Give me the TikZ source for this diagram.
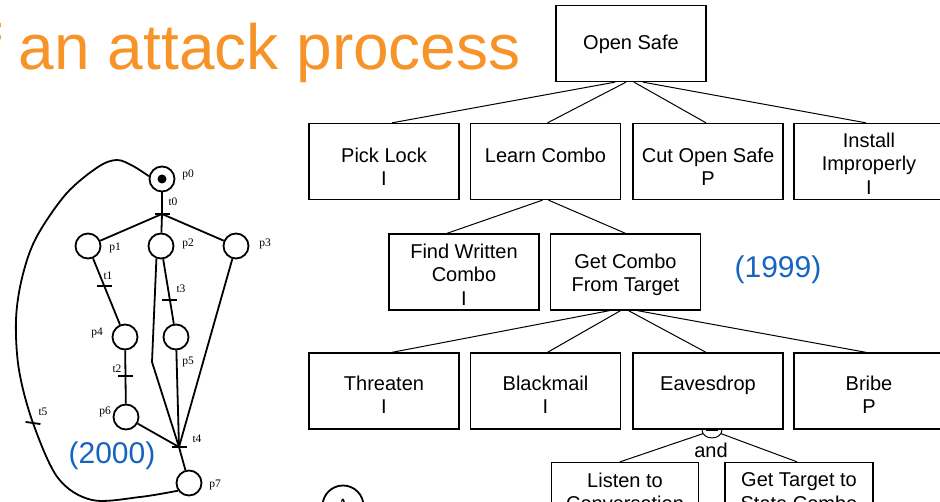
\documentclass[tikz,border=0pt]{standalone}
\usepackage{fontspec}
\setmainfont{Liberation Sans}
\newfontfamily\netfont{Liberation Serif}
\usetikzlibrary{calc}
\definecolor{titleorange}{RGB}{247,148,41}
\definecolor{yearblue}{RGB}{21,101,192}
\begin{document}
\begin{tikzpicture}[x=1pt,y=-1pt,
  place/.style={circle,draw,line width=1.8pt,minimum size=25pt,inner sep=0pt},
  token/.style={circle,fill=black,minimum size=9pt,inner sep=0pt},
  bar/.style={rectangle,fill=black,minimum width=15pt,minimum height=1.8pt,inner sep=0pt},
  netline/.style={line width=1.8pt},
  netlbl/.style={font=\netfont\fontsize{11.5}{12}\selectfont,inner sep=0pt},
  goal/.style={draw,line width=1.3pt,minimum width=150pt,minimum height=76pt,inner sep=0pt},
  leafgoal/.style={goal,minimum width=147pt},
  goaltext/.style={font=\fontsize{20}{23.5}\selectfont,align=center,inner sep=0pt,anchor=north},
  link/.style={line width=1pt},
  year/.style={font=\fontsize{30}{36}\selectfont,text=yearblue,inner sep=0pt}
]
\useasboundingbox (0,0) rectangle (940,502);
\clip (0,0) rectangle (940,502);

% ---------- title ----------
\node[anchor=base west,inner sep=0pt,font=\fontsize{64}{70}\selectfont,text=titleorange]
  (title) at (-16.8,70) {f an attack process};

% ---------- Petri net ----------
\node[place] (p0) at (162,179) {};
\node[token] (tok) at (p0) {};
\node[bar] (t0) at (162,214) {};
\node[place] (p1) at (88,246) {};
\node[place] (p2) at (161,246) {};
\node[place] (p3) at (236,246) {};
\node[place] (p4) at (125,337) {};
\node[place] (p5) at (176,337) {};
\node[place] (p6) at (126,417) {};
\node[place] (p7) at (189,483) {};
\node[bar] (t1) at ($(p1)!0.44!(p4)$) {};
\node[bar] (t2) at ($(p4)!0.49!(p6)$) {};
\node[bar] (t3) at ($(p2)!0.59!(p5)$) {};
\node[bar] (t4) at (179,447) {};
\node[bar,rotate=-8] (t5) at (33,423) {};
\coordinate (bend) at (152,362);

\draw[netline] (p0) -- (t0.center);
\draw[netline] (t0.center) -- (p1);
\draw[netline] (t0.center) -- (p2);
\draw[netline] (t0.center) -- (p3);
\draw[netline] (p1) -- (p4);
\draw[netline] (p4) -- (p6);
\draw[netline] (p2) -- (p5);
\draw[netline] (p2.250) -- (bend) -- (t4.center);
\draw[netline] (p5) -- (t4.center);
\draw[netline] (p3) -- (t4.center);
\draw[netline] (p6) -- (t4.center);
\draw[netline] (t4.center) -- (p7);
\draw[netline] plot[smooth,tension=0.55] coordinates {
  (p7.215) (140,497) (92,500) (58,478) (t5.center) (19,370) (16,320) (22,278)
  (36,238) (66,194) (98,167) (117,160) (133,166) (p0.168)};

\node[netlbl] (lp0) at (188,175) {p0};
\node[netlbl] (lt0) at (173,202) {t0};
\node[netlbl] (lp1) at (115,248) {p1};
\node[netlbl] (lp2) at (188,244) {p2};
\node[netlbl] (lp3) at (265,244) {p3};
\node[netlbl] (lt1) at (108,276) {t1};
\node[netlbl] (lp4) at (97,333) {p4};
\node[netlbl] (lt2) at (117,369) {t2};
\node[netlbl] (lt3) at (181,289) {t3};
\node[netlbl] (lp5) at (188,362) {p5};
\node[netlbl] (lp6) at (105,412) {p6};
\node[netlbl] (lt4) at (197,439) {t4};
\node[netlbl] (lt5) at (43,412) {t5};
\node[netlbl] (lp7) at (215,485) {p7};

\node[year] (y2000) at (112,456) {(2000)};

% ---------- attack tree ----------
\node[goal] (os) at (631,43.5) {};
\node[goaltext] (ost) at (631,35) {Open Safe};

\node[goal] (pl) at (384,161.5) {};
\node[goal] (lc) at (545.5,161.5) {};
\node[goal] (co) at (708,161.5) {};
\node[goal] (ii) at (869,161.5) {};
\node[goaltext] (plt) at (384,147.5) {Pick Lock\\I};
\node[goaltext] (lct) at (545.5,147.5) {Learn Combo};
\node[goaltext] (cot) at (708,147.5) {Cut Open Safe\\P};
\node[goaltext] (iit) at (869,132.5) {Install\\Improperly\\I};

\node[goal] (fw) at (464,272) {};
\node[goal] (gc) at (625.5,272) {};
\node[goaltext] (fwt) at (464,243.5) {Find Written\\Combo\\I};
\node[goaltext] (gct) at (625.5,253.5) {Get Combo\\From Target};

\node[goal] (th) at (384,391) {};
\node[goal] (bm) at (545.5,391) {};
\node[goal] (ev) at (708,391) {};
\node[goal] (br) at (869,391) {};
\node[goaltext] (tht) at (384,375.5) {Threaten\\I};
\node[goaltext] (bmt) at (545.5,375.5) {Blackmail\\I};
\node[goaltext] (evt) at (708,375.5) {Eavesdrop};
\node[goaltext] (brt) at (869,375.5) {Bribe\\P};

\node[leafgoal] (lt) at (625,500.5) {};
\node[leafgoal,minimum width=148pt] (gt) at (799,500.5) {};
\node[goaltext] (ltt) at (625,472.5) {Listen to\\Conversation};
\node[goaltext] (gtt) at (799,472.5) {Get Target to\\State Combo};

\draw[link] ([xshift=-16pt]os.south) -- ([xshift=8pt]pl.north);
\draw[link] ([xshift=-5pt]os.south) -- ([xshift=2pt]lc.north);
\draw[link] ([xshift=3pt]os.south) -- ([xshift=-2pt]co.north);
\draw[link] ([xshift=12pt]os.south) -- ([xshift=-3pt]ii.north);

\draw[link] ([xshift=-3pt]lc.south) -- ([xshift=-17pt]fw.north);
\draw[link] ([xshift=3pt]lc.south) -- (gc.north);

\draw[link] ([xshift=-16pt]gc.south) -- ([xshift=8pt]th.north);
\draw[link] ([xshift=-5pt]gc.south) -- ([xshift=2pt]bm.north);
\draw[link] ([xshift=3pt]gc.south) -- ([xshift=-2pt]ev.north);
\draw[link] ([xshift=12pt]gc.south) -- ([xshift=-3pt]br.north);

% and-gate below Eavesdrop
\coordinate (gate) at ([xshift=4pt]ev.south);
\draw[link,fill=white] ([xshift=-10pt]gate) .. controls +(0,11) and +(0,11) .. ([xshift=10pt]gate);
\draw[line width=2pt] ([xshift=-6pt]gate) -- ([xshift=6pt]gate);
\draw[link] ([xshift=-9pt,yshift=-4pt]gate) -- ([xshift=-5pt]lt.north);
\draw[link] ([xshift=9pt,yshift=-4pt]gate) -- ([xshift=-2pt]gt.north);
\node[anchor=base,inner sep=0pt,font=\fontsize{20}{24}\selectfont] (andlbl) at (711,457) {and};

\node[year] (y1999) at (778,270) {(1999)};

% circled mark at the lower edge
\node[circle,draw,line width=1.8pt,minimum size=41pt,inner sep=0pt,
      font=\netfont\fontsize{20}{24}\selectfont] (mark) at (343,506) {A};
\end{tikzpicture}
\end{document}
